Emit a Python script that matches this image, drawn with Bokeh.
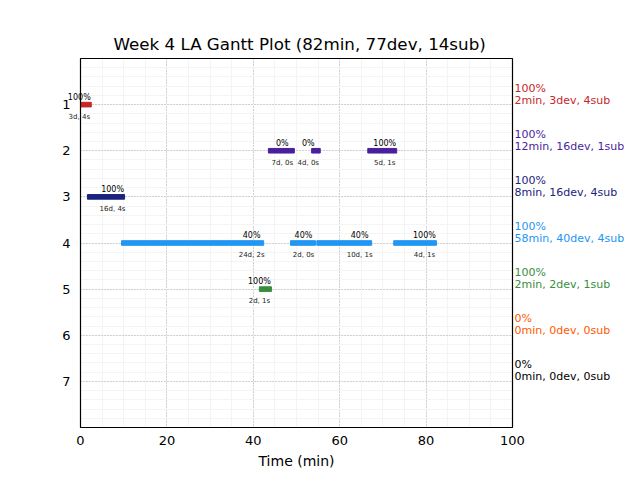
from bokeh.plotting import figure
from bokeh.models import ColumnDataSource, Label, Range1d, FixedTicker, Title
from bokeh.embed import file_html
from bokeh.resources import INLINE

# ---- data ----
labs = [1, 2, 3, 4, 5, 6, 7]
lab_colors = ["#c62828", "#4a1f9e", "#1a237e", "#2196f3", "#388e3c", "#ff5a00", "#000000"]
lab_pct = ["100%", "100%", "100%", "100%", "100%", "0%", "0%"]
lab_summary = ["2min, 3dev, 4sub", "12min, 16dev, 1sub", "8min, 16dev, 4sub",
               "58min, 40dev, 4sub", "2min, 2dev, 1sub", "0min, 0dev, 0sub", "0min, 0dev, 0sub"]

bar_lab = [1, 2, 2, 2, 3, 4, 4, 4, 4, 5]
bar_start = [0.0, 43.5, 53.5, 66.5, 1.6, 9.5, 48.6, 54.7, 72.5, 41.4]
bar_end = [2.5, 49.5, 55.5, 73.2, 10.2, 42.4, 54.4, 67.4, 82.4, 44.2]
bar_pct = ["100%", "0%", "0%", "100%", "100%", "40%", "40%", "40%", "100%", "100%"]
bar_info = ["3d, 4s", "7d, 0s", "4d, 0s", "5d, 1s", "16d, 4s",
            "24d, 2s", "2d, 0s", "10d, 1s", "4d, 1s", "2d, 1s"]

title_text = "Week 4 LA Gantt Plot (82min, 77dev, 14sub)"
x_label = "Time (min)"
y_label = "Lab #"
x_max = 100
y_max = 8

FONT = "DejaVu Sans"

# layout geometry (pixels): plot box 432 x 369; canvas frame is wider so texts outside
# the box are not clipped
BOX_W, BOX_H = 432.0, 369.0
PAD_L, PAD_R, PAD_V = 18.0, 124.0, 1.0
sx = BOX_W / x_max
sy = BOX_H / y_max

p = figure(width=640, height=480, output_backend="svg", toolbar_location=None,
           x_range=Range1d(-PAD_L / sx, x_max + PAD_R / sx),
           y_range=Range1d(y_max + PAD_V / sy, -PAD_V / sy),
           min_border_left=62, min_border_right=4, min_border_top=57, min_border_bottom=52)

p.title = Title(text=title_text, align="left", offset=51, text_font=FONT,
                text_font_size="16.7px", text_font_style="normal", text_color="black",
                standoff=7)

p.background_fill_color = "white"
p.border_fill_color = "white"
p.outline_line_color = None

# axes
for ax in (p.xaxis[0], p.yaxis[0]):
    ax.axis_line_color = None
    ax.major_tick_out = 0
    ax.major_tick_in = 0
    ax.minor_tick_out = 0
    ax.minor_tick_in = 0
    ax.major_label_text_font = FONT
    ax.major_label_text_font_size = "13px"
    ax.major_label_text_color = "black"
    ax.axis_label_text_font = FONT
    ax.axis_label_text_font_size = "14px"
    ax.axis_label_text_font_style = "normal"
    ax.axis_label_text_color = "black"

p.yaxis.axis_label = y_label
p.xaxis.ticker = FixedTicker(ticks=[0, 20, 40, 60, 80, 100],
                             minor_ticks=[i * 5 for i in range(21)])
p.yaxis.ticker = FixedTicker(ticks=labs, minor_ticks=[i * 0.2 for i in range(41)])
p.xaxis.bounds = (0, x_max)
p.yaxis.bounds = (0, y_max)
p.yaxis.fixed_location = 0
p.xaxis.major_label_standoff = 7
p.yaxis.major_label_standoff = 10
p.yaxis.axis_label_standoff = 4

# x axis label, centred under the plot box
p.add_layout(Title(text=x_label, align="left", offset=196, text_font=FONT,
                   text_font_size="14px", text_font_style="normal", text_color="black",
                   standoff=7), "below")

# grids
p.xgrid.bounds = (0, x_max)
p.xgrid.cross_bounds = (0, y_max)
p.ygrid.bounds = (0, y_max)
p.ygrid.cross_bounds = (0, x_max)
for g in (p.xgrid[0], p.ygrid[0]):
    g.grid_line_color = "#b0b0b0"
    g.grid_line_dash = "1 2"
    g.grid_line_width = 1
    g.minor_grid_line_color = "#f4f4f4"
    g.minor_grid_line_width = 1

# bars
bar_colors = [lab_colors[l - 1] for l in bar_lab]
src = ColumnDataSource(dict(lab=bar_lab, start=bar_start, end=bar_end, color=bar_colors))
p.hbar(y="lab", left="start", right="end", height=0.1, color="color", source=src)

# plot box (spines)
box = p.quad(left=[0], right=[x_max], top=[0], bottom=[y_max], fill_alpha=0,
             line_color="black", line_width=1.2)
box.level = "annotation"

for lab, end, pct, info in zip(bar_lab, bar_end, bar_pct, bar_info):
    p.add_layout(Label(x=end, y=lab, text=pct, x_offset=-12, y_offset=3,
                       text_align="center", text_baseline="bottom", text_font=FONT,
                       text_font_size="8px", text_color="black"))
    p.add_layout(Label(x=end, y=lab, text=info, x_offset=-12, y_offset=-8,
                       text_align="center", text_baseline="top", text_font=FONT,
                       text_font_size="7px", text_color="#222222"))

# right-side summaries
for lab, pct, summ, col in zip(labs, lab_pct, lab_summary, lab_colors):
    p.add_layout(Label(x=x_max, y=lab, text=summ, x_offset=2, y_offset=-2,
                       text_align="left", text_baseline="bottom", text_font=FONT,
                       text_font_size="11px", text_color=col))
    p.add_layout(Label(x=x_max, y=lab, text=pct, x_offset=2, y_offset=10,
                       text_align="left", text_baseline="bottom", text_font=FONT,
                       text_font_size="11px", text_color=col))

open("out.html", "w").write(file_html(p, INLINE))
